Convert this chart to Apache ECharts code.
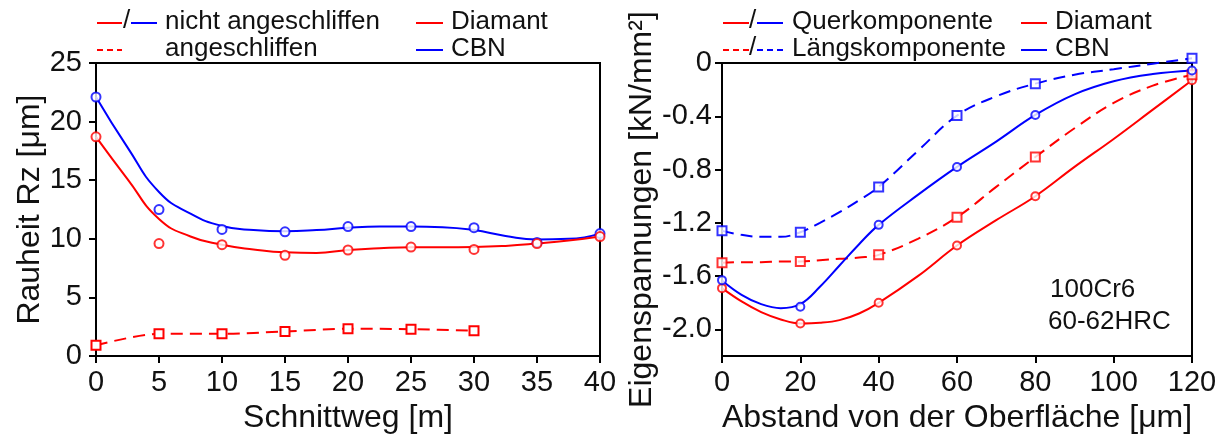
<!DOCTYPE html>
<html>
<head>
<meta charset="utf-8">
<script src="https://cdn.jsdelivr.net/npm/echarts@6/dist/echarts.min.js"></script>
<style>
  html, body { margin: 0; padding: 0; background: #fff; }
  #chart { width: 1227px; height: 439px; }
</style>
</head>
<body>
<div id="chart"></div>
<script>
// linkes Diagramm: Rauheit ueber Schnittweg
var schnittweg = [0, 5, 10, 15, 20, 25, 30, 35, 40];
var rzCbn = [22.1, 12.5, 10.8, 10.6, 11.05, 11.05, 10.95, 9.7, 10.45];
var rzDiamant = [18.7, 9.6, 9.5, 8.6, 9.05, 9.3, 9.1, 9.6, 10.2];
var schnittwegAng = [0, 5, 10, 15, 20, 25, 30];
var rzDiamantAng = [0.92, 1.9, 1.9, 2.1, 2.33, 2.3, 2.17];
// Ausgleichskurven links
var fitX = [0, 2.5, 5, 7.5, 10, 12.5, 15, 17.5, 20, 22.5, 25, 27.5, 30, 32.5, 35, 37.5, 40];
var fitCbn = [22.1, 17.8, 14.0, 12.15, 11.1, 10.75, 10.65, 10.75, 10.95, 11.05, 11.05, 11.0, 10.75, 10.25, 9.95, 10.0, 10.45];
var fitDiamant = [18.7, 15.1, 11.7, 10.2, 9.5, 9.1, 8.85, 8.8, 9.05, 9.2, 9.28, 9.28, 9.3, 9.4, 9.6, 9.85, 10.2];

// rechtes Diagramm: Eigenspannungen ueber Abstand
var abstand = [0, 20, 40, 60, 80, 120];
var querDiamant = [-1.69, -1.955, -1.80, -1.37, -1.0, -0.13];
var querCbn = [-1.63, -1.83, -1.215, -0.78, -0.39, -0.056];
var laengsDiamant = [-1.50, -1.49, -1.44, -1.157, -0.706, -0.088];
var laengsCbn = [-1.26, -1.27, -0.93, -0.395, -0.155, 0.035];
var spannungTicks = [-2.0, -1.6, -1.2, -0.8, -0.4, 0];
// Kurvenverlauf rechts
var kurveX = [0, 5, 10, 15, 20, 25, 30, 35, 40, 50, 60, 70, 80, 90, 100, 110, 120];
var kurveQuerDiamant = [-1.69, -1.79, -1.87, -1.925, -1.955, -1.95, -1.93, -1.88, -1.80, -1.60, -1.37, -1.18, -1.0, -0.78, -0.57, -0.35, -0.13];
var kurveQuerCbn = [-1.632, -1.74, -1.81, -1.84, -1.81, -1.68, -1.52, -1.36, -1.215, -0.99, -0.78, -0.59, -0.39, -0.235, -0.137, -0.083, -0.056];
var kurveLaengsDiamant = [-1.50, -1.495, -1.495, -1.49, -1.49, -1.48, -1.47, -1.46, -1.44, -1.32, -1.157, -0.93, -0.706, -0.49, -0.30, -0.17, -0.088];
var kurveLaengsCbn = [-1.26, -1.29, -1.305, -1.305, -1.27, -1.2, -1.12, -1.03, -0.93, -0.66, -0.395, -0.25, -0.155, -0.088, -0.047, -0.005, 0.035];

var ROT = '#ff0000';
var BLAU = '#0000ff';
var FONT = '"Liberation Sans", Arial, sans-serif';
var DASH = [12, 7];

function pairs(xs, ys) {
    return xs.map(function (x, i) { return [x, ys[i]]; });
}

var chartDom = document.getElementById('chart');
var myChart = echarts.init(chartDom, null, { renderer: 'canvas' });

function achse(extra) {
    var base = {
        type: 'value',
        axisLine: { show: true, onZero: false, lineStyle: { color: '#000', width: 2 } },
        axisTick: { show: true, length: 7, lineStyle: { color: '#000', width: 2 } },
        axisLabel: { color: '#111', fontSize: 29, fontFamily: FONT },
        splitLine: { show: false },
        nameLocation: 'middle',
        nameTextStyle: { color: '#111', fontSize: 32, fontFamily: FONT }
    };
    return Object.assign(base, extra);
}

function legLine(x1, x2, y, color, dashed) {
    return {
        type: 'line',
        shape: { x1: x1, y1: y, x2: x2, y2: y },
        style: { stroke: color, lineWidth: 2, lineDash: dashed ? [6, 4] : null }
    };
}
function legText(x, y, text) {
    return {
        type: 'text',
        x: x, y: y,
        style: { text: text, fill: '#111', fontSize: 26, fontFamily: FONT, verticalAlign: 'middle', textVerticalAlign: 'middle' }
    };
}

// Ausgleichskurve ohne Symbole
function kurve(ax, xs, ys, color, dashed, glatt) {
    return { type: 'line', xAxisIndex: ax, yAxisIndex: ax, data: pairs(xs, ys), smooth: glatt, showSymbol: false,
        lineStyle: { color: color, width: 2, type: dashed ? DASH : 'solid' }, clip: false, z: 2 };
}
// Messpunkte
function punkte(ax, xs, ys, color, symbol, size) {
    return { type: 'scatter', xAxisIndex: ax, yAxisIndex: ax, data: pairs(xs, ys), symbol: symbol, symbolSize: size,
        itemStyle: { color: '#fff', borderColor: color, borderWidth: 2 }, clip: false, z: 3 };
}

var option = {
    animation: false,
    backgroundColor: '#fff',
    grid: [
        { left: 96, right: 627, top: 63, bottom: 77, show: true, borderColor: '#000', borderWidth: 2, backgroundColor: 'transparent' },
        { left: 722, right: 35, top: 63, bottom: 77, show: true, borderColor: '#000', borderWidth: 2, backgroundColor: 'transparent' }
    ],
    xAxis: [
        achse({ gridIndex: 0, min: 0, max: 40, interval: 5, name: 'Schnittweg [m]', nameGap: 40,
            axisLabel: { color: '#111', fontSize: 29, fontFamily: FONT, margin: 12 } }),
        achse({ gridIndex: 1, min: 0, max: 120, interval: 20, name: 'Abstand von der Oberfläche [μm]', nameGap: 40,
            axisLabel: { color: '#111', fontSize: 29, fontFamily: FONT, margin: 12 } })
    ],
    yAxis: [
        achse({ gridIndex: 0, min: 0, max: 25, interval: 5, name: 'Rauheit Rz [μm]', nameGap: 50,
            axisLabel: { color: '#111', fontSize: 29, fontFamily: FONT, margin: 14 } }),
        achse({ gridIndex: 1, min: -2.2, max: 0, name: 'Eigenspannungen [kN/mm²]', nameGap: 50,
            axisTick: { show: true, length: 7, lineStyle: { color: '#000', width: 2 }, customValues: spannungTicks },
            axisLabel: { color: '#111', fontSize: 29, fontFamily: FONT, margin: 10, customValues: spannungTicks,
                formatter: function (v) { return v === 0 ? '0' : v.toFixed(1); } } })
    ],
    graphic: [
        legLine(97, 122, 23, ROT, false),
        legText(123, 21, '/'),
        legLine(131, 157, 23, BLAU, false),
        legText(165, 22, 'nicht angeschliffen'),
        legLine(97, 122, 50, ROT, true),
        legText(165, 49, 'angeschliffen'),
        legLine(416, 443, 23, ROT, false),
        legText(451, 22, 'Diamant'),
        legLine(416, 443, 50, BLAU, false),
        legText(451, 49, 'CBN'),

        legLine(723, 749, 23, ROT, false),
        legText(749, 21, '/'),
        legLine(757, 783, 23, BLAU, false),
        legText(792, 22, 'Querkomponente'),
        legLine(723, 749, 50, ROT, true),
        legText(749, 48, '/'),
        legLine(757, 783, 50, BLAU, true),
        legText(792, 49, 'Längskomponente'),
        legLine(1021, 1047, 23, ROT, false),
        legText(1055, 22, 'Diamant'),
        legLine(1021, 1047, 50, BLAU, false),
        legText(1055, 49, 'CBN'),

        legText(1050, 290, '100Cr6'),
        legText(1048, 322, '60-62HRC')
    ],
    series: [
        // links
        kurve(0, fitX, fitCbn, BLAU, false, 0.5),
        kurve(0, fitX, fitDiamant, ROT, false, 0.5),
        punkte(0, schnittweg, rzCbn, BLAU, 'circle', 9),
        punkte(0, schnittweg, rzDiamant, ROT, 'circle', 9),
        { type: 'line', xAxisIndex: 0, yAxisIndex: 0, data: pairs(schnittwegAng, rzDiamantAng), smooth: 0.3,
          symbol: 'rect', symbolSize: 9, showAllSymbol: true,
          lineStyle: { color: ROT, width: 2, type: DASH },
          itemStyle: { color: '#fff', borderColor: ROT, borderWidth: 2 }, clip: false },

        // rechts
        kurve(1, kurveX, kurveQuerDiamant, ROT, false, 0.4),
        kurve(1, kurveX, kurveLaengsDiamant, ROT, true, 0.4),
        kurve(1, kurveX, kurveQuerCbn, BLAU, false, 0.4),
        kurve(1, kurveX, kurveLaengsCbn, BLAU, true, 0.4),
        punkte(1, abstand, querDiamant, ROT, 'circle', 8),
        punkte(1, abstand, laengsDiamant, ROT, 'rect', 9),
        punkte(1, abstand, querCbn, BLAU, 'circle', 8),
        punkte(1, abstand, laengsCbn, BLAU, 'rect', 9)
    ]
};

option && myChart.setOption(option);
</script>
</body>
</html>
